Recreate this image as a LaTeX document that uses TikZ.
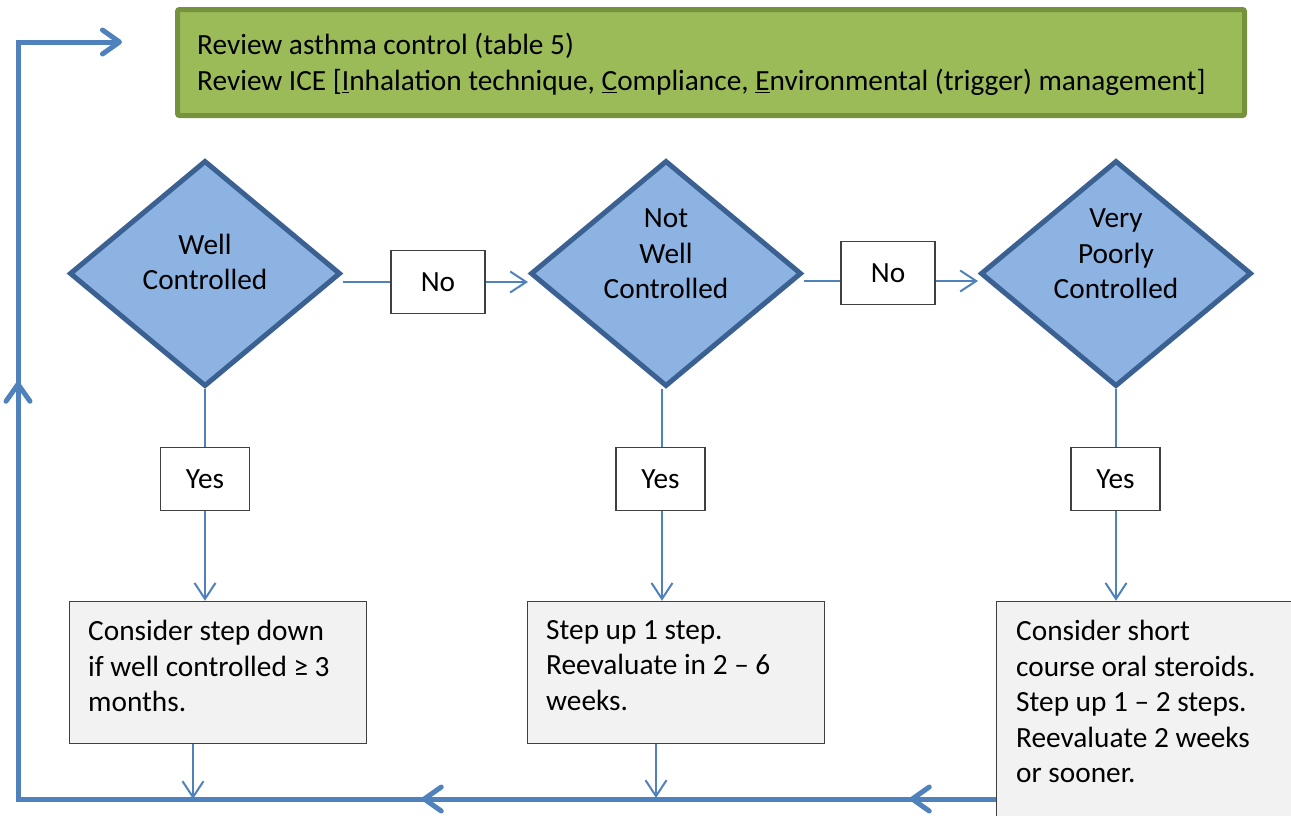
\documentclass[tikz,border=0pt]{standalone}
\usepackage{fontspec}
\setmainfont{Carlito}
\usetikzlibrary{arrows.meta,shapes.geometric,decorations.markings}
\definecolor{gfill}{HTML}{9BBB59}
\definecolor{gdraw}{HTML}{76923C}
\definecolor{bfill}{HTML}{8DB3E2}
\definecolor{bdraw}{HTML}{3B6193}
\definecolor{lblue}{HTML}{4F81BD}
\definecolor{gbox}{HTML}{F2F2F2}
\definecolor{gborder}{HTML}{404040}
\begin{document}
\begin{tikzpicture}[x=1pt,y=-1pt,
  every node/.style={font=\fontsize{29.3}{35.5}\selectfont, text=black},
  header/.style={draw=gdraw, fill=gfill, line width=5pt, rounded corners=2pt, minimum width=1067pt, minimum height=106pt, inner sep=0pt},
  decision/.style={diamond, draw=bdraw, fill=bfill, line width=5pt, minimum width=271pt, minimum height=226pt, inner sep=0pt},
  lbl/.style={draw=gborder, fill=white, line width=1.5pt, minimum width=94pt, minimum height=63pt, inner sep=0pt},
  action/.style={draw=gborder, fill=gbox, line width=1.5pt, anchor=north west, inner sep=0pt},
  txt/.style={align=left, inner sep=0pt},
  ctxt/.style={align=center, inner sep=0pt},
  thinline/.style={draw=lblue, line width=2pt},
  thinarrow/.style={thinline, -{Straight Barb[length=16pt,width=21pt]}},
  loopline/.style={draw=lblue, line width=5pt, line join=miter,
     -{Straight Barb[length=17pt,width=24pt,round]}},
]
\useasboundingbox (0,0) rectangle (1291,815);
\clip (0,0) rectangle (1291,815);

% header
\node[header] (hdr) at (711,62.5) {};
\node[txt, anchor=west] (hdrt) at (197,64.5) {Review asthma control (table 5)\\Review ICE [\underline{I}nhalation technique, \underline{C}ompliance, \underline{E}nvironmental (trigger) management]};

% decisions
\node[decision] (d1) at (205,273.5) {};
\node[decision] (d2) at (666,273.5) {};
\node[decision] (d3) at (1116,273.5) {};
\node[ctxt] (d1t) at (205,262) {Well\\Controlled};
\node[ctxt] (d2t) at (666,254) {Not\\Well\\Controlled};
\node[ctxt] (d3t) at (1116,254) {Very\\Poorly\\Controlled};

% No labels
\node[lbl] (n1) at (438,282) {No};
\node[lbl] (n2) at (888,273) {No};
\coordinate (r2) at (0,281);

% Yes labels
\node[lbl, minimum width=89pt] (y1) at (205,479) {Yes};
\node[lbl, minimum width=89pt] (y2) at (660.5,479) {Yes};
\node[lbl, minimum width=89pt] (y3) at (1115.5,479) {Yes};

% action boxes
\node[action, minimum width=297pt, minimum height=142pt] (g1) at (68.75,600.75) {};
\node[action, minimum width=297pt, minimum height=142pt] (g2) at (526.75,600.75) {};
\node[action, minimum width=330pt, minimum height=260pt] (g3) at (995.75,600.75) {};
\node[txt, anchor=north west] (g1t) at (88,620) {Consider step down\\if well controlled ≥ 3\\months.};
\node[txt, anchor=north west] (g2t) at (546,620) {Step up 1 step.\\Reevaluate in 2 – 6\\weeks.};
\node[txt, anchor=north west] (g3t) at (1016,620) {Consider short\\course oral steroids.\\Step up 1 – 2 steps.\\Reevaluate 2 weeks\\or sooner.};

% No connectors
\draw[thinline] (d1.east |- n1.west) -- (n1.west);
\draw[thinarrow] (n1.east) -- (d2.west |- n1.east);
\draw[thinline] (d2.east |- r2) -- (n2.west |- r2);
\draw[thinarrow] (n2.east |- r2) -- (d3.west |- r2);

% Yes connectors
\draw[thinline] (d1.south) -- (y1.north);
\draw[thinline] (y2.north -| 662,0) -- (d2.south -| 662,0);
\draw[thinline] (d3.south) -- (y3.north -| d3.south);
\draw[thinarrow] (y1.south) -- (g1.north -| y1.south);
\draw[thinarrow] (y2.south -| 662,0) -- (g2.north -| 662,0);
\draw[thinarrow] (y3.south -| 1116,0) -- (g3.north -| 1116,0);

% loop back
\coordinate (bl) at (18,799);
\coordinate (tl) at (18,42);
\coordinate (tr) at (122,42);
\coordinate (f1) at (193,799);
\coordinate (f2) at (656,798);
\draw[thinarrow] (g1.south -| f1) -- (f1);
\draw[thinarrow] (g2.south -| f2) -- (f2);
\draw[loopline, postaction={decorate}, decoration={markings,
   mark=at position 86pt with {\arrow{Straight Barb[length=17pt,width=24pt,round]}},
   mark=at position 574pt with {\arrow{Straight Barb[length=17pt,width=24pt,round]}},
   mark=at position 1395pt with {\arrow{Straight Barb[length=17pt,width=24pt,round]}}}]
  (g3.west |- bl) -- (bl) -- (tl) -- (tr);
\end{tikzpicture}
\end{document}
